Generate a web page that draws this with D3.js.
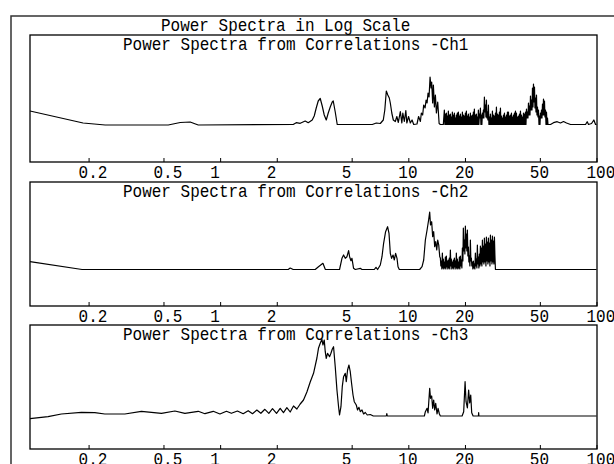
<!DOCTYPE html>
<html>
<head>
<meta charset="utf-8">
<script src="https://cdn.jsdelivr.net/npm/d3@7"></script>
<style>
  html, body { margin: 0; padding: 0; background: #fff; }
  svg { display: block; }
  text { font-family: "Liberation Mono", "DejaVu Sans Mono", monospace; font-size: 16px; fill: #000; }
</style>
</head>
<body>
<svg id="chart" width="614" height="464"></svg>
<script>
// ---- data ----------------------------------------------------------------
const mainTitle = "Power Spectra in Log Scale";
const panelTitles = [
  "Power Spectra from Correlations -Ch1",
  "Power Spectra from Correlations -Ch2",
  "Power Spectra from Correlations -Ch3"
];
const tickValues = [0.2, 0.5, 1, 2, 5, 10, 20, 50, 100];
const freqDomain = [100 / 1024, 100];   // Hz, log axis
const powerDomain = [0, 125];           // relative log power

// [frequency (Hz), relative log power]
const ch1 = [
  [0.0977,51],[0.187,39],[0.245,37],[0.530,37],[0.614,39.5],[0.693,40],[0.765,37],
  [2.445,37.5],[2.537,39.3],[2.664,38.7],[2.832,41],[2.938,39.3],[3.086,42],[3.162,46],
  [3.241,54],[3.321,61],[3.404,63.5],[3.488,56],[3.575,47],[3.664,42],[3.754,49],
  [3.847,55],[3.942,60],[3.991,61],[4.090,50],[4.191,37.5],
  [6.436,37.5],[6.759,39],[7.098,38.5],[7.363,42],[7.50,52],[7.640,71],[7.78,67],
  [7.925,64],[8.023,59],[8.17,49],[8.323,42],[8.530,40.5],[8.69,45.5],[8.849,39.5],
  [9.069,50.5],[9.237,39],[9.351,49],[9.524,40.5],[9.701,51.5],[9.821,39],[10.03,45.5],
  [10.25,39],[10.47,42],[10.68,37.5],[11.12,38],[11.34,45.5],[11.59,40.5],[11.73,49],
  [11.92,47],[12.07,57],[12.28,54],[12.43,62],[12.58,59],[12.73,69],[12.89,65],
  [13.05,85],[13.21,74],[13.31,80],[13.47,59],[13.59,77],[13.76,55],[13.93,67],
  [14.10,49],[14.33,60],[14.58,38.5],[14.80,37.5],[15.35,37.5],
  [15.54,52],[15.64,37.5],[15.73,48],[15.83,37.5],[15.93,49],[16.03,37.5],[16.12,46],[16.22,37.5],
  [16.32,51],[16.42,37.5],[16.52,47],[16.62,37.5],[16.73,48],[16.83,37.5],[16.93,45],[17.03,37.5],
  [17.14,50],[17.24,37.5],[17.35,47],[17.46,37.5],[17.57,49],[17.68,37.5],[17.78,44],[17.89,37.5],
  [18.00,47],[18.11,37.5],[18.22,49],[18.33,37.5],[18.45,50],[18.56,37.5],[18.68,46],[18.79,37.5],
  [18.91,48],[19.03,37.5],[19.14,45],[19.26,37.5],[19.38,50],[19.50,37.5],[19.61,47],[19.73,37.5],
  [19.86,46],[19.98,37.5],[20.10,49],[20.22,37.5],[20.35,51],[20.47,37.5],[20.60,46],[20.73,37.5],
  [20.85,48],[20.98,37.5],[21.11,45],[21.24,37.5],[21.37,49],[21.50,37.5],[21.63,46],[21.76,37.5],
  [21.90,47],[22.03,37.5],[22.17,50],[22.31,37.5],[22.44,53],[22.58,37.5],[22.72,47],[22.86,37.5],
  [23.00,48],[23.14,37.5],[23.28,45],[23.42,37.5],[23.57,52],[23.71,37.5],[23.86,48],[24.01,44],
  [24.16,54],[24.31,37.5],[24.45,47],[24.60,37.5],[24.76,49],[24.91,44],[25.06,52],[25.21,44],
  [25.37,65],[25.53,50],[25.69,57],[25.85,45],[26.00,62],[26.16,44],[26.32,50],[26.48,42],
  [26.65,57],[26.81,37.5],[26.98,45],[27.15,37.5],[27.31,48],[27.48,37.5],[27.65,44],[27.82,37.5],
  [27.99,51],[28.16,37.5],[28.33,47],[28.50,37.5],[28.68,46],[28.86,37.5],[29.04,49],[29.22,37.5],
  [29.39,55],[29.57,37.5],[29.76,48],[29.94,37.5],[30.12,47],[30.31,37.5],[30.49,50],[30.68,37.5],
  [30.87,54],[31.06,37.5],[31.25,46],[31.44,37.5],[31.64,44],[31.83,37.5],[32.03,47],[32.23,37.5],
  [32.42,49],[32.62,37.5],[32.82,45],[33.02,37.5],[33.23,47],[33.43,37.5],[33.64,50],[33.85,37.5],
  [34.05,50],[34.26,37.5],[34.47,46],[34.68,37.5],[34.89,47],[35.10,37.5],[35.32,49],[35.54,37.5],
  [35.76,45],[35.98,37.5],[36.20,47],[36.42,37.5],[36.64,49],[36.87,37.5],[37.10,51],[37.33,37.5],
  [37.55,49],[37.78,37.5],[38.02,45],[38.25,37.5],[38.49,46],[38.73,37.5],[38.96,48],[39.20,37.5],
  [39.44,51],[39.68,37.5],[39.93,47],[40.18,37.5],[40.42,45],[40.67,37.5],[40.92,49],[41.17,37.5],
  [41.42,48],[41.67,37.5],[41.93,50],[42.19,37.5],[42.45,53],[42.71,44],[42.97,50],[43.23,44],
  [43.50,59],[43.77,47],[44.04,56],[44.31,47],[44.58,66],[44.85,52],[45.13,62],[45.41,52],
  [45.69,74],[45.97,55],[46.25,78],[46.53,60],[46.82,75],[47.11,54],[47.40,64],[47.69,50],
  [47.98,67],[48.27,47],[48.57,55],[48.87,45],[49.17,52],[49.47,37.5],[49.78,46],[50.09,37.5],
  [50.39,49],[50.70,44],[51.01,52],[51.32,44],[51.64,58],[51.96,47],[52.28,63],[52.60,47],
  [52.92,61],[53.24,45],[53.57,52],[53.90,37.5],[54.23,50],[54.56,37.5],[54.90,44],[55.24,37.5],
  [55.58,37.5],
  [56.96,37.5],[59.09,39.3],[61.80,40.3],[64.38,39],[66.79,40.5],[69.29,39],[72.77,37.5],
  [87.45,37.5],[89.24,40.3],[90.71,37.5],[94.11,38.5],[96.81,42],[98.85,37.5],[100,37.5]
];

const ch2 = [
  [0.0977,44.3],[0.1847,36.5],[2.300,36.5],[2.357,38],[2.445,36.5],[3.201,36.5],
  [3.331,39.3],[3.518,42.7],[3.619,36.7],[4.311,36.5],[4.440,47.7],[4.529,51],
  [4.624,47.7],[4.720,49.3],[4.816,55.3],[4.876,49.3],[4.957,45.3],[5.018,47.7],
  [5.118,37.7],[5.226,36.5],[5.556,37.7],[5.673,36.5],[6.595,36.5],[6.733,38.7],
  [6.868,36.5],[7.098,41],[7.247,49.3],[7.392,62.7],[7.574,74.3],[7.760,79.3],
  [7.895,72.7],[8.023,52.7],[8.152,47.7],[8.297,51],[8.426,46],[8.561,52.7],
  [8.708,47.7],[8.816,39.3],[8.958,36.5],[11.49,36.5],[11.83,39.3],[12.07,46],
  [12.32,66],[12.58,76],[12.82,86],[12.99,94],[13.12,81],[13.31,84.3],[13.47,69.3],
  [13.64,74.3],[13.81,59.3],[13.98,64.3],[14.16,56],[14.33,66],[14.51,61],[14.69,49.3],
  [14.80,48],[14.89,40],[14.98,45],[15.07,37],[15.17,53],[15.26,38],[15.35,47],[15.44,37],
  [15.54,44],[15.64,38],[15.73,49],[15.83,37],[15.93,50],[16.03,39],[16.12,45],[16.22,37],
  [16.32,46],[16.42,38],[16.52,48],[16.62,37],[16.73,56],[16.83,40],[16.93,47],[17.03,37],
  [17.14,44],[17.24,38],[17.35,46],[17.46,37],[17.57,48],[17.68,39],[17.78,45],[17.89,37],
  [18.00,53],[18.11,38],[18.22,47],[18.33,37],[18.45,44],[18.56,38],[18.68,49],[18.79,37],
  [18.91,50],[19.03,40],[19.14,46],[19.26,38],[19.38,58],[19.50,45],[19.61,78],[19.73,55],
  [19.86,66],[19.98,52],[20.10,80],[20.22,58],[20.35,72],[20.47,55],[20.60,76],[20.73,50],
  [20.85,59],[20.98,44],[21.11,50],[21.24,40],[21.37,66],[21.50,45],[21.63,48],[21.76,40],
  [21.90,44],[22.03,37],[22.17,45],[22.31,38],[22.44,42],[22.58,37],[22.72,53],[22.86,40],
  [23.00,47],[23.14,38],[23.28,61],[23.42,42],[23.57,49],[23.71,38],[23.86,52],[24.01,40],
  [24.16,60],[24.31,42],[24.45,58],[24.60,40],[24.76,66],[24.91,44],[25.06,60],[25.21,42],
  [25.37,68],[25.53,44],[25.69,62],[25.85,40],[26.00,69],[26.16,45],[26.32,64],[26.48,42],
  [26.65,68],[26.81,44],[26.98,63],[27.15,40],[27.31,71],[27.48,45],[27.65,66],[27.82,42],
  [27.99,70],[28.16,44],[28.33,65],[28.50,42],[28.68,69],[28.86,50],[29.04,36.5],
  [100,36.5]
];

const ch3 = [
  [0.0977,30.3],[0.1218,32.3],[0.1434,35],[0.1831,36.7],[0.2158,36.3],[0.2440,35],
  [0.3117,35],[0.3818,37.7],[0.4316,36.7],[0.4879,35.7],[0.5750,38],[0.6499,35.7],
  [0.7647,37.7],[0.8303,35.3],[0.9190,37.7],[0.9977,35],[1.0802,37.7],[1.148,35.7],
  [1.2357,38],[1.326,35.3],[1.4095,38.3],[1.486,35.3],[1.567,39],[1.646,35.7],
  [1.729,39.7],[1.815,35.7],[1.898,40.3],[1.994,35.7],[2.085,40.7],[2.171,36.3],
  [2.263,41.3],[2.357,37],[2.454,43],[2.558,40],[2.664,45],[2.774,49],[2.891,57],
  [3.011,67],[3.136,75.7],[3.268,91],[3.331,100.7],[3.404,105.7],[3.475,109.7],
  [3.518,104],[3.575,109],[3.619,97.3],[3.664,90.7],[3.723,95.7],[3.815,92.3],
  [3.880,95.7],[3.942,99.7],[4.006,102.3],[4.090,82.3],[4.176,59],[4.260,42.3],
  [4.311,34],[4.386,42.3],[4.457,62.3],[4.529,72.3],[4.624,75.7],[4.681,67.3],
  [4.756,79],[4.837,84],[4.915,77.3],[4.994,65.7],[5.083,54],[5.162,47.3],[5.290,44],
  [5.375,39],[5.467,41.7],[5.556,37.3],[5.673,39],[5.786,35],[5.907,36.5],[6.053,34],
  [6.280,34.5],[6.515,33],[7.640,33],[7.687,35.5],[7.733,33],[12.17,33],[12.32,37.3],
  [12.58,40.7],[12.73,36],[12.99,60.7],[13.12,50.7],[13.31,53],[13.47,40.7],[13.64,49],
  [13.81,39],[13.98,45.7],[14.21,35],[14.39,40.7],[14.63,35],[14.80,33],[19.31,33],
  [19.69,37.3],[20.03,67.3],[20.27,47.3],[20.60,41],[20.92,59],[21.19,46],[21.46,54],
  [21.72,36.3],[22.10,33],[23.58,33],[23.65,36.3],[23.71,33],[100,33]
];

const series = [ch1, ch2, ch3];

// ---- layout ---------------------------------------------------------------
const svg = d3.select("#chart");
const plotLeft = 30, plotRight = 597;
const panels = [
  { top: 35,  bottom: 162 },
  { top: 182, bottom: 306 },
  { top: 325, bottom: 449 }
];
const titleOffset = 15;   // subtitle baseline below panel top
const labelOffset = 16;   // tick label baseline below panel bottom
const vStretch = "scale(1,1.2)";

const x = d3.scaleLog().domain(freqDomain).range([plotLeft, plotRight - 0.5]);

// outer frame (continues past the page edge on the right and bottom)
svg.append("rect")
  .attr("x", 11).attr("y", 16)
  .attr("width", 700).attr("height", 600)
  .attr("fill", "none").attr("stroke", "#333").attr("stroke-width", 1.5);

svg.append("text")
  .attr("transform", `translate(161,31) ${vStretch}`)
  .text(mainTitle);

panels.forEach((p, i) => {
  const y = d3.scaleLinear().domain(powerDomain).range([p.bottom, p.bottom - 125]);
  const g = svg.append("g");

  g.append("rect")
    .attr("x", plotLeft).attr("y", p.top)
    .attr("width", plotRight - plotLeft).attr("height", p.bottom - p.top)
    .attr("fill", "#fff").attr("stroke", "#000").attr("stroke-width", 1.3);

  const axis = g.append("g")
    .attr("transform", `translate(0,${p.bottom})`)
    .call(d3.axisBottom(x).tickValues(tickValues).tickSize(-4).tickFormat(d3.format("~g")));
  axis.select(".domain").remove();
  axis.selectAll(".tick line").attr("stroke", "#000").attr("stroke-width", 1);
  axis.selectAll(".tick text")
    .attr("y", null).attr("dy", null)
    .attr("text-anchor", "start")
    .attr("transform", `translate(-10.5,${labelOffset}) ${vStretch}`)
    .attr("fill", "#000");
  axis.attr("font-family", null).attr("font-size", null);

  const line = d3.line().x(d => x(d[0])).y(d => y(d[1]));
  g.append("path")
    .datum(series[i])
    .attr("d", line)
    .attr("fill", "none")
    .attr("stroke", "#000")
    .attr("stroke-width", 1.2)
    .attr("stroke-linejoin", "round");

  g.append("text")
    .attr("transform", `translate(123,${p.top + titleOffset}) ${vStretch}`)
    .text(panelTitles[i]);
});
</script>
</body>
</html>
